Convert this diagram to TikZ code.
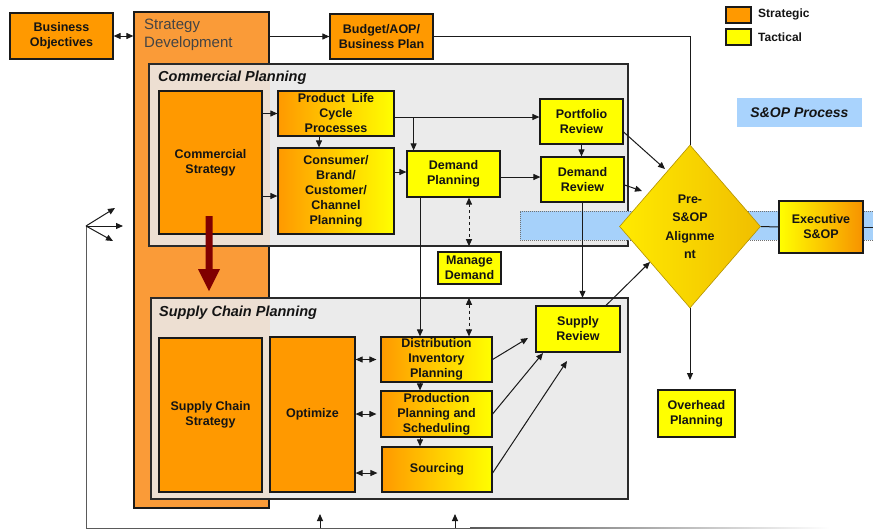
\documentclass[tikz,border=0pt]{standalone}
\usepackage{fontspec}
\setmainfont{Liberation Sans}
\usetikzlibrary{shapes.geometric,arrows.meta}
\definecolor{orng}{HTML}{FF9900}
\definecolor{sdor}{HTML}{FA9B38}
\definecolor{yel}{HTML}{FFFF00}
\definecolor{cpgrey}{HTML}{EBEBEB}
\definecolor{beige}{HTML}{EDDFD2}
\definecolor{bandblue}{HTML}{A6D1FA}
\definecolor{bandline}{HTML}{707070}
\definecolor{sopblue}{HTML}{A9D3FD}
\definecolor{boxline}{HTML}{1A1A1A}
\definecolor{contline}{HTML}{2A2A2A}
\definecolor{ln}{HTML}{1A1A1A}
\definecolor{txt}{HTML}{141414}
\definecolor{sdtxt}{HTML}{444444}
\definecolor{dred}{HTML}{800000}
\definecolor{diayel}{HTML}{FFEA00}
\definecolor{diagold}{HTML}{F0BE00}
\definecolor{diaedge}{HTML}{B39200}
\definecolor{fbline}{HTML}{5A5A5A}
\definecolor{execor}{HTML}{F79200}
\begin{document}
\begin{tikzpicture}[x=1pt,y=-1pt,
  box/.style={draw=boxline, line width=1.2pt, align=center, inner sep=0pt,
    font=\bfseries\fontsize{12.5}{15}\selectfont, text=txt},
  strat/.style={box, fill=orng},
  tact/.style={box, fill=yel},
  grad/.style={box, left color=orng, right color=yel},
  arr/.style={draw=ln, line width=1pt, -{Triangle[length=7pt,width=6pt]}},
  dbl/.style={draw=ln, line width=1pt, {Triangle[length=7pt,width=6pt]}-{Triangle[length=7pt,width=6pt]}},
  plain/.style={draw=ln, line width=1pt},
  cont/.style={draw=contline, line width=1.5pt},
  conttitle/.style={anchor=west, inner sep=0pt, text=txt, font=\bfseries\itshape\fontsize{14.5}{17}\selectfont},
  legtext/.style={anchor=west, inner sep=0pt, text=txt, font=\bfseries\fontsize{12}{14}\selectfont},
]
\useasboundingbox (0,0) rectangle (873,531);

% Strategy development
\node[strat, fill=sdor, minimum width=135pt, minimum height=496pt] (sd) at (201.5,260) {};
\node[anchor=north west, align=left, inner sep=0pt, font=\fontsize{15}{18}\selectfont, text=sdtxt] (sdt) at (144,18.5) {Strategy\\Development};

% Commercial planning container
\node[fill=cpgrey, minimum width=479pt, minimum height=182pt, inner sep=0pt] (cp) at (388.5,155) {};
\fill[beige] (cp.north west) rectangle (sd.east |- cp.south);
\draw[cont] (cp.north west) rectangle (cp.south east);
\node[conttitle] (cpt) at (158,78) {Commercial Planning};

% Supply chain planning container
\node[fill=cpgrey, minimum width=477pt, minimum height=201pt, inner sep=0pt] (scp) at (389.5,398.5) {};
\fill[beige] (scp.north west) rectangle (sd.east |- scp.south);
\draw[cont] (scp.north west) rectangle (scp.south east);
\node[conttitle] (scpt) at (159,313) {Supply Chain Planning};

% S&OP band
\node[fill=bandblue, draw=bandline, densely dotted, line width=1pt, minimum width=356pt, minimum height=29pt, inner sep=0pt] (band) at (698,225.5) {};

% Top row
\node[strat, minimum width=103pt, minimum height=46pt] (bo) at (61.5,36) {Business\\Objectives};
\node[strat, minimum width=103pt, minimum height=45pt] (budget) at (381.5,36.5) {Budget/AOP/\\Business Plan};

% Legend
\node[strat, line width=1.5pt, minimum width=25pt, minimum height=16pt] (lg1) at (738.5,15) {};
\node[tact, line width=1.5pt, minimum width=25pt, minimum height=16pt] (lg2) at (738.5,37) {};
\node[legtext] (lgt1) at (758,14) {Strategic};
\node[legtext] (lgt2) at (758,37) {Tactical};

\node[fill=sopblue, minimum width=125pt, minimum height=29pt, inner sep=0pt, text=txt,
  font=\bfseries\itshape\fontsize{14}{16}\selectfont] (sop) at (799.5,112.5) {S\&OP Process};

% Commercial planning boxes
\node[strat, minimum width=103pt, minimum height=143pt] (cs) at (210.5,162.5) {Commercial\\Strategy};
\node[grad, minimum width=116pt, minimum height=45pt] (plc) at (336,113.5) {Product\ \ Life\\Cycle\\Processes};
\node[grad, minimum width=116pt, minimum height=86pt] (cons) at (336,191) {Consumer/\\Brand/\\Customer/\\Channel\\Planning};
\node[tact, minimum width=93pt, minimum height=46pt] (dp) at (453.5,174) {Demand\\Planning};
\node[tact, minimum width=83pt, minimum height=45pt] (pr) at (581.5,121.5) {Portfolio\\Review};
\node[tact, minimum width=83pt, minimum height=45pt] (dr) at (582.5,179.5) {Demand\\Review};
\node[tact, minimum width=63pt, minimum height=32pt] (md) at (469.5,268) {Manage\\Demand};

% Supply chain boxes
\node[strat, minimum width=103pt, minimum height=154pt] (scs) at (210.5,415) {Supply Chain\\Strategy};
\node[strat, minimum width=85pt, minimum height=155pt] (opt) at (312.5,414.5) {Optimize};
\node[grad, minimum width=111pt, minimum height=45pt] (dip) at (436.5,359.5) {Distribution\\Inventory\\Planning};
\node[grad, minimum width=111pt, minimum height=46pt] (pps) at (436.5,414) {Production\\Planning and\\Scheduling};
\node[grad, minimum width=110pt, minimum height=45pt] (src) at (437,469.5) {Sourcing};
\node[tact, minimum width=84pt, minimum height=46pt] (sr) at (578,329) {Supply\\Review};

% Right side
\node[diamond, draw=diaedge, line width=0.6pt, minimum width=141pt, minimum height=163pt, inner sep=0pt,
  left color=diayel, right color=diagold, align=center, text=txt,
  font=\bfseries\fontsize{12.5}{18.5}\selectfont] (dia) at (690,226.5) {Pre-\\S\&OP\\Alignme\\nt};
\node[box, left color=yel, right color=execor, minimum width=84pt, minimum height=52pt] (exec) at (821,227) {Executive\\S\&OP};
\node[tact, minimum width=77pt, minimum height=47pt] (oh) at (696.5,413.5) {Overhead\\Planning};

% Big red arrow
\coordinate (ra) at (209,216);
\coordinate (rb) at (209,291);
\fill[dred] ([xshift=-3.5pt]ra) -- ([xshift=3.5pt]ra) -- ([xshift=3.5pt,yshift=22pt]rb)
  -- ([xshift=11pt,yshift=22pt]rb) -- (rb) -- ([xshift=-11pt,yshift=22pt]rb)
  -- ([xshift=-3.5pt,yshift=22pt]rb) -- cycle;

% Connectors - top
\draw[dbl] (bo.east) -- (bo.east -| sd.west);
\draw[arr] (sd.east |- budget.west) -- (budget.west);
\draw[plain] (budget.east) -- (budget.east -| dia.north) -- (dia.north);

% Connectors - commercial
\draw[arr] (cs.east |- plc.west) -- (plc.west);
\coordinate (csc) at ([yshift=-5pt]cons.west);
\draw[arr] (cs.east |- csc) -- (csc);
\coordinate (plcb) at ([xshift=-17pt]plc.south);
\draw[arr] (plcb) -- (plcb |- cons.north);
\coordinate (plce) at ([yshift=-3.5pt]plc.east);
\draw[arr] (plce) -- (plce -| pr.west);
\coordinate (j1) at ([xshift=19pt]plce);
\draw[arr] (j1) -- (j1 |- dp.north);
\coordinate (dpin) at ([yshift=2pt]dp.west);
\draw[arr] (cons.east |- dpin) -- (dpin);
\coordinate (drin) at ([yshift=2.5pt]dr.west);
\draw[arr] (dp.east |- drin) -- (drin);
\draw[arr] (pr.south) -- (pr.south |- dr.north);
\coordinate (prx) at ([yshift=-10.5pt]pr.east);
\coordinate (t1) at (665,169);
\draw[arr] (prx) -- (t1);
\coordinate (drx) at ([yshift=-5.5pt]dr.east);
\coordinate (t2) at (642,191);
\draw[arr] (drx) -- (t2);
\coordinate (dd) at ([xshift=15.5pt]dp.south);
\draw[dbl, dashed] (dd) -- (dd |- cp.south);
\draw[dbl, dashed] (dd |- scp.north) -- (dd |- dip.north);
\coordinate (v1) at ([xshift=-33.5pt]dp.south);
\draw[arr] (v1) -- (v1 |- dip.north);
\draw[arr] (dr.south) -- (dr.south |- scp.north);

% Connectors - supply chain
\draw[dbl, shorten >=4pt] (opt.east |- dip.west) -- (dip.west);
\draw[dbl, shorten >=4pt] (opt.east |- pps.west) -- (pps.west);
\coordinate (srcw) at ([yshift=-3.5pt]src.west);
\draw[dbl, shorten >=4pt] (opt.east |- srcw) -- (srcw);
\draw[arr] (v1 |- dip.south) -- (v1 |- pps.north);
\draw[arr] (v1 |- pps.south) -- (v1 |- src.north);
\coordinate (t3) at (528,338);
\draw[arr] (dip.east) -- (t3);
\coordinate (t4) at (543,353);
\draw[arr] (pps.east) -- (t4);
\coordinate (srce) at ([yshift=-3.5pt]src.east);
\coordinate (t5) at (567,361);
\draw[arr] (srce) -- (t5);
\coordinate (srn) at ([xshift=28pt]sr.north);
\coordinate (t6) at (650,262);
\draw[arr] (srn) -- (t6);

% Connectors - right
\coordinate (ohy) at (0,380);
\draw[arr] (dia.south) -- (dia.south |- ohy);
\draw[plain] (dia.east) -- (exec.west);
\coordinate (rEdge) at (873,227);
\draw[plain] (exec.east) -- (rEdge);

% Feedback loop
\coordinate (fb) at (86,528);
\coordinate (fj) at (86,226);
\coordinate (fm) at (470,528);
\coordinate (fa1) at (115,208);
\coordinate (fa2) at (123,226);
\coordinate (fa3) at (113,241);
\coordinate (u1) at (320,528);
\coordinate (u1t) at (320,514);
\coordinate (u2) at (455,528);
\coordinate (u2t) at (455,514);
\draw[plain, draw=fbline] (fb) -- (fj);
\draw[plain, draw=fbline] (fb) -- (fm);
\shade[left color=fbline, right color=white] (470,527.5) rectangle (830,528.5);
\draw[arr] (fj) -- (fa1);
\draw[arr] (fj) -- (fa2);
\draw[arr] (fj) -- (fa3);
\draw[arr] (u1) -- (u1t);
\draw[arr] (u2) -- (u2t);
\end{tikzpicture}
\end{document}
